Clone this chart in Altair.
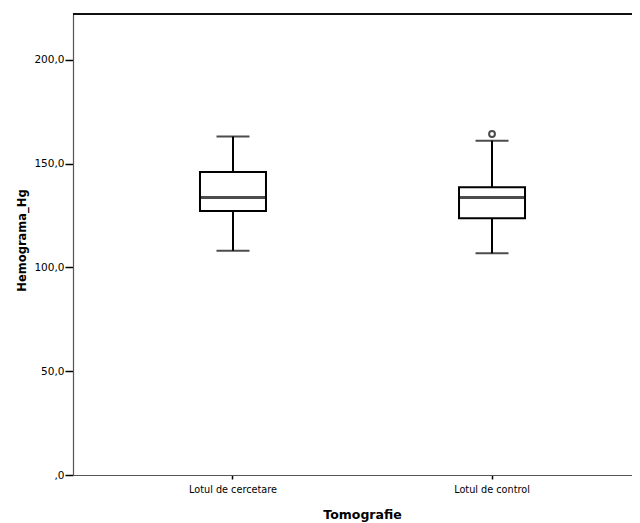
import altair as alt
import pandas as pd

groups = ["Lotul de cercetare", "Lotul de control"]
whisker_low = [108.0, 106.8]
q1 = [127.1, 123.7]
median = [133.6, 133.6]
q3 = [145.9, 138.6]
whisker_high = [163.0, 161.0]
outlier_group = ["Lotul de control"]
outlier_value = [164.2]
y_ticks = [0, 50, 100, 150, 200]

df = pd.DataFrame({
    "group": groups,
    "lo": whisker_low,
    "q1": q1,
    "med": median,
    "q3": q3,
    "hi": whisker_high,
})
out = pd.DataFrame({"group": outlier_group, "value": outlier_value})

W, H = 559, 461
FONT = "DejaVu Sans"

xscale = alt.Scale(domain=groups, paddingInner=0.5, paddingOuter=0.329, align=0.5587)
yscale = alt.Scale(domain=[0, 222], nice=False, zero=True)

x_axis = alt.Axis(
    title="Tomografie", labelAngle=0, labelFontSize=9.7, labelFont=FONT, labelColor="black",
    tickSize=4, tickColor="black", tickWidth=1.5, domainColor="#555", domainWidth=1.2,
    labelPadding=5, titleFont=FONT, titleFontSize=12.5, titleFontWeight="bold", titleColor="black",
    titleX=289, titleY=39, titleBaseline="middle", grid=False,
)
y_axis = alt.Axis(
    title="Hemograma_Hg", values=y_ticks,
    labelExpr="datum.value == 0 ? ',0' : replace(format(datum.value, '.1f'), '.', ',')",
    labelFontSize=10.5, labelFont=FONT, labelColor="black", tickSize=8, tickColor="black",
    tickWidth=1.5, domainColor="#555", domainWidth=1.2, labelPadding=1,
    titleFont=FONT, titleFontSize=11.5, titleFontWeight="bold", titleColor="black",
    titleX=-51, titleY=226, titleAngle=-90, titleBaseline="middle", titleAlign="center", grid=False,
)

base = alt.Chart(df)
x_enc = alt.X("group:N", scale=xscale, sort=groups, axis=x_axis)


def yq(field):
    return alt.Y(field, scale=yscale, axis=y_axis)


whisk_low = base.mark_rule(color="black", strokeWidth=2).encode(
    x=x_enc, y=yq("lo:Q"), y2="q1:Q")
whisk_hi = base.mark_rule(color="black", strokeWidth=2).encode(
    x=x_enc, y=yq("q3:Q"), y2="hi:Q")
box = base.mark_bar(fill="white", stroke="black", strokeWidth=2, size=66).encode(
    x=x_enc, y=yq("q1:Q"), y2="q3:Q")
med = base.mark_tick(color="black", size=66, thickness=3, orient="horizontal").encode(
    x=x_enc, y=yq("med:Q"))
cap_lo = base.mark_tick(color="black", size=33, thickness=2, orient="horizontal").encode(
    x=x_enc, y=yq("lo:Q"))
cap_hi = base.mark_tick(color="black", size=33, thickness=2, orient="horizontal").encode(
    x=x_enc, y=yq("hi:Q"))
outl = alt.Chart(out).mark_point(shape="circle", filled=False, color="black", strokeWidth=2, size=34).encode(
    x=x_enc, y=yq("value:Q"))
top = alt.Chart(df).mark_rule(color="black", strokeWidth=1.5).encode(
    x=alt.value(0), x2=alt.value(W), y=alt.value(0))

chart = alt.layer(whisk_low, whisk_hi, box, med, cap_lo, cap_hi, outl, top).properties(
    width=W, height=H,
    autosize=alt.AutoSizeParams(type="none"),
    padding={"left": 65, "top": 6, "right": 0, "bottom": 48},
    background="white",
).configure_view(stroke=None)

chart.save("out.html", embed_options={"renderer": "svg", "actions": False})
